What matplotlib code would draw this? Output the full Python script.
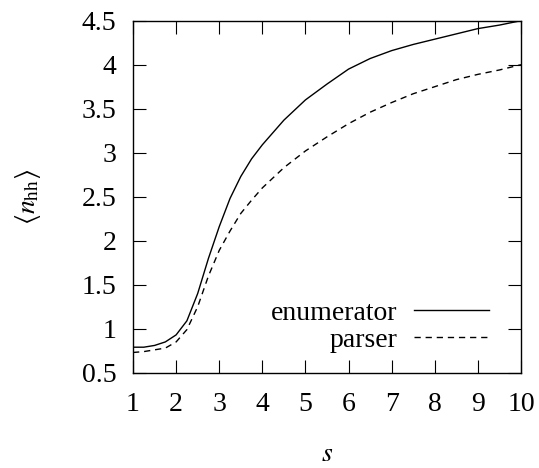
import matplotlib
matplotlib.use("Agg")
import matplotlib.pyplot as plt

plt.rcParams['font.family'] = ['Liberation Serif', 'DejaVu Serif']
plt.rcParams['mathtext.fontset'] = 'stix'

s = [1, 1.25, 1.5, 1.75, 2, 2.25, 2.5, 2.75, 3, 3.25, 3.5, 3.75, 4,
     4.5, 5, 5.5, 6, 6.5, 7, 7.5, 8, 8.5, 9, 9.5, 10]
enumerator = [0.79, 0.79, 0.81, 0.85, 0.93, 1.09, 1.40, 1.80, 2.16, 2.48, 2.73, 2.93, 3.09,
              3.37, 3.60, 3.78, 3.95, 4.07, 4.16, 4.23, 4.29, 4.35, 4.41, 4.45, 4.50]
parser = [0.73, 0.74, 0.76, 0.78, 0.85, 0.99, 1.25, 1.60, 1.89, 2.11, 2.31, 2.46, 2.60,
          2.83, 3.02, 3.18, 3.33, 3.46, 3.57, 3.67, 3.75, 3.83, 3.89, 3.94, 4.00]

fig = plt.figure(figsize=(5.39, 4.68), dpi=100)
ax = fig.add_axes([0.2468, 0.2036, 0.7198, 0.7522])

ax.plot(s, enumerator, color='black', lw=1.0, label='enumerator')
ax.plot(s, parser, color='black', lw=1.0, dashes=(4.5, 3.5), label='parser')

ax.set_xlim(1, 10)
ax.set_ylim(0.5, 4.5)
ax.set_xticks(range(1, 11))
ax.set_yticks([0.5, 1, 1.5, 2, 2.5, 3, 3.5, 4, 4.5])
ax.set_yticklabels(['0.5', '1', '1.5', '2', '2.5', '3', '3.5', '4', '4.5'])

ax.tick_params(direction='in', length=9.5, width=0.8, top=True, right=True,
               labelsize=20)
ax.tick_params(axis='x', pad=14)
ax.tick_params(axis='y', pad=12)
for sp in ax.spines.values():
    sp.set_linewidth(1.0)

ax.set_xlabel(r'$s$', fontsize=20, labelpad=18)
ax.set_ylabel(r'$\langle n_{\rm hh}\rangle$', fontsize=20, labelpad=28)

ax.legend(loc='center right', frameon=False, markerfirst=False, fontsize=20,
          handlelength=2.7, handletextpad=0.6, labelspacing=0.05,
          borderpad=0, borderaxespad=0, bbox_to_anchor=(0.9175, 0.131))

fig.savefig('out.png', dpi=100)
